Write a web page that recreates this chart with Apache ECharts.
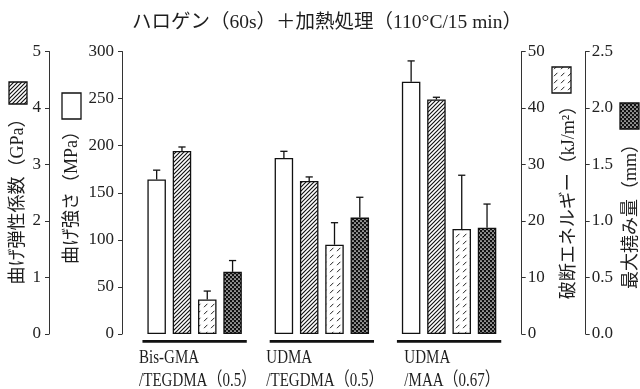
<!DOCTYPE html>
<html>
<head>
<meta charset="utf-8">
<script src="https://cdn.jsdelivr.net/npm/echarts@6/dist/echarts.min.js"></script>
<style>
  html, body { margin: 0; padding: 0; background: #fff; }
  #chart { width: 640px; height: 389px; }
</style>
</head>
<body>
<div id="chart"></div>
<script>
// Resin systems (two-line labels)
const categories = [
  ['Bis-GMA', '/TEGDMA（0.5）'],
  ['UDMA', '/TEGDMA（0.5）'],
  ['UDMA', '/MAA（0.67）']
];
// Flexural strength (MPa)
const strength = [164, 187, 268];
const strengthSd = [10, 7, 22];
// Flexural modulus (GPa)
const modulus = [3.24, 2.71, 4.15];
const modulusSd = [0.07, 0.07, 0.04];
// Fracture energy (kJ/m2)
const energy = [6.1, 15.8, 18.6];
const energySd = [1.5, 3.9, 9.5];
// Maximum deflection (mm)
const deflection = [0.55, 1.03, 0.94];
const deflectionSd = [0.10, 0.18, 0.21];

const strengthAxis = { min: 0, max: 300, interval: 50 };
const modulusAxis = { min: 0, max: 5, interval: 1 };
const energyAxis = { min: 0, max: 50, interval: 10 };
const deflectionAxis = { min: 0, max: 2.5, interval: 0.5 };

const titleText = 'ハロゲン（60s）＋加熱処理（110°C/15 min）';

const SERIF = '"Liberation Serif", "Noto Sans CJK JP", serif';
const INK = '#1e1e1e';
const BAR_W = 18.5;
const BAR_GAP = 6.8;

// ---- fill patterns ----
function tile(w, h, draw) {
  const c = document.createElement('canvas');
  c.width = w; c.height = h;
  const g = c.getContext('2d');
  g.fillStyle = '#fff';
  g.fillRect(0, 0, w, h);
  draw(g);
  return { image: c, repeat: 'repeat' };
}
const patHatch = tile(4, 4, g => {
  g.strokeStyle = '#111'; g.lineWidth = 1.15;
  g.beginPath();
  g.moveTo(-1, 5); g.lineTo(5, -1);
  g.moveTo(-1, 1); g.lineTo(1, -1);
  g.moveTo(3, 5); g.lineTo(5, 3);
  g.stroke();
});
const patDash = tile(7, 7, g => {
  g.strokeStyle = '#222'; g.lineWidth = 1;
  g.beginPath();
  g.moveTo(1, 6.2); g.lineTo(4.4, 2.8);
  g.stroke();
});
const patCross = tile(4, 4, g => {
  g.fillStyle = '#111';
  g.fillRect(0, 0, 4, 4);
  g.fillStyle = '#fff';
  g.beginPath(); g.arc(1, 1, 0.85, 0, Math.PI * 2); g.fill();
  g.beginPath(); g.arc(3, 3, 0.85, 0, Math.PI * 2); g.fill();
});

const fills = ['#fff', patHatch, patDash, patCross];
const measures = [
  { name: '曲げ強さ', vals: strength, sd: strengthSd },
  { name: '曲げ弾性係数', vals: modulus, sd: modulusSd },
  { name: '破断エネルギー', vals: energy, sd: energySd },
  { name: '最大撓み量', vals: deflection, sd: deflectionSd }
];

function yAxisCfg(range, position, offset, fmt) {
  return {
    type: 'value',
    position: position,
    offset: offset,
    min: range.min, max: range.max, interval: range.interval,
    splitLine: { show: false },
    axisLine: { show: true, lineStyle: { color: '#333', width: 1 } },
    axisTick: { show: true, length: 4, lineStyle: { color: '#333', width: 1 } },
    axisLabel: {
      color: '#222', fontSize: 17, fontFamily: SERIF,
      margin: position === 'left' ? 8 : 6,
      formatter: fmt
    }
  };
}

const barSeries = measures.map((m, k) => ({
  type: 'bar',
  name: m.name,
  yAxisIndex: k,
  barWidth: BAR_W,
  barGap: (BAR_GAP / BAR_W * 100).toFixed(1) + '%',
  data: m.vals,
  itemStyle: { color: fills[k], borderColor: '#111', borderWidth: 1.3 },
  z: 2
}));

const errSeries = measures.map((m, k) => ({
  type: 'custom',
  yAxisIndex: k,
  clip: false,
  z: 3,
  data: m.vals.map((v, i) => [i, v, m.sd[i]]),
  encode: { x: 0, y: 1 },
  renderItem: function (params, api) {
    const i = api.value(0), v = api.value(1), s = api.value(2);
    const p0 = api.coord([i, v]);
    const p1 = api.coord([i, v + s]);
    const x = p0[0] + (k - 1.5) * (BAR_W + BAR_GAP);
    const cap = 3.6;
    return {
      type: 'group',
      children: [
        { type: 'line', shape: { x1: x, y1: p0[1], x2: x, y2: p1[1] },
          style: { stroke: '#111', lineWidth: 1.3 } },
        { type: 'line', shape: { x1: x - cap, y1: p1[1], x2: x + cap, y2: p1[1] },
          style: { stroke: '#111', lineWidth: 1.3 } }
      ]
    };
  }
}));

// Group underline and two-line category label
const measureCtx = document.createElement('canvas').getContext('2d');
const LABEL_FONT = '15px ' + SERIF;
const LABEL_SX = 1;
measureCtx.font = LABEL_FONT;
const groupSeries = {
  type: 'custom',
  yAxisIndex: 0,
  clip: false,
  silent: true,
  data: categories.map((c, i) => [i, 0]),
  encode: { x: 0, y: 1 },
  renderItem: function (params, api) {
    const i = api.value(0);
    const base = api.coord([i, 0]);
    const band = api.size([1, 0])[0];
    const half = band * 0.41;
    const lines = categories[i];
    const w = LABEL_SX * Math.max(...lines.map(t => measureCtx.measureText(t).width));
    const left = base[0] - w / 2 + 3;
    const textStyle = t => ({ text: t, font: LABEL_FONT, fill: INK, align: 'left', verticalAlign: 'middle' });
    return {
      type: 'group',
      children: [
        { type: 'line', shape: { x1: base[0] - half, y1: base[1] + 7.4, x2: base[0] + half, y2: base[1] + 7.4 },
          style: { stroke: '#111', lineWidth: 2.8 } },
        { type: 'text', x: left, y: base[1] + 24.5, scaleX: LABEL_SX, scaleY: 1.25, style: textStyle(lines[0]) },
        { type: 'text', x: left, y: base[1] + 47.5, scaleX: LABEL_SX, scaleY: 1.25, style: textStyle(lines[1]) }
      ]
    };
  }
};

// Axis names with their pattern keys
function axisName(cx, cy, text, box, fill) {
  return [
    { type: 'rect', shape: { x: box[0], y: box[1], width: box[2], height: box[3] },
      style: { fill: fill, stroke: '#111', lineWidth: 1.3 } },
    { type: 'text', x: cx, y: cy, rotation: Math.PI / 2,
      style: { text: text, font: '18px ' + SERIF, fill: INK, align: 'center', verticalAlign: 'middle' } }
  ];
}

const chart = echarts.init(document.getElementById('chart'), null, { renderer: 'canvas' });
chart.setOption({
  animation: false,
  backgroundColor: '#fff',
  title: {
    text: titleText,
    left: 322, top: 8, textAlign: 'center',
    textStyle: { fontFamily: SERIF, fontSize: 19.5, fontWeight: 'normal', color: INK }
  },
  grid: { left: 131, right: 127.3, top: 51.5, bottom: 55 },
  xAxis: {
    type: 'category',
    data: categories.map(c => c.join('')),
    axisLine: { show: false },
    axisTick: { show: false },
    axisLabel: { show: false },
    splitLine: { show: false }
  },
  yAxis: [
    yAxisCfg(strengthAxis, 'left', 9),
    yAxisCfg(modulusAxis, 'left', 82),
    yAxisCfg(energyAxis, 'right', 9),
    yAxisCfg(deflectionAxis, 'right', 73, v => v.toFixed(1))
  ],
  graphic: [
    ...axisName(18, 197, '曲げ弾性係数（GPa）', [9, 82, 18, 22], patHatch),
    ...axisName(72, 193, '曲げ強さ（MPa）', [62, 93, 19, 26], '#fff'),
    ...axisName(569, 198, '破断エネルギー（kJ/m²）', [552, 67, 19, 26], patDash),
    ...axisName(631, 212, '最大撓み量（mm）', [620, 103, 19, 26], patCross)
  ],
  series: [...barSeries, ...errSeries, groupSeries]
});
</script>
</body>
</html>
